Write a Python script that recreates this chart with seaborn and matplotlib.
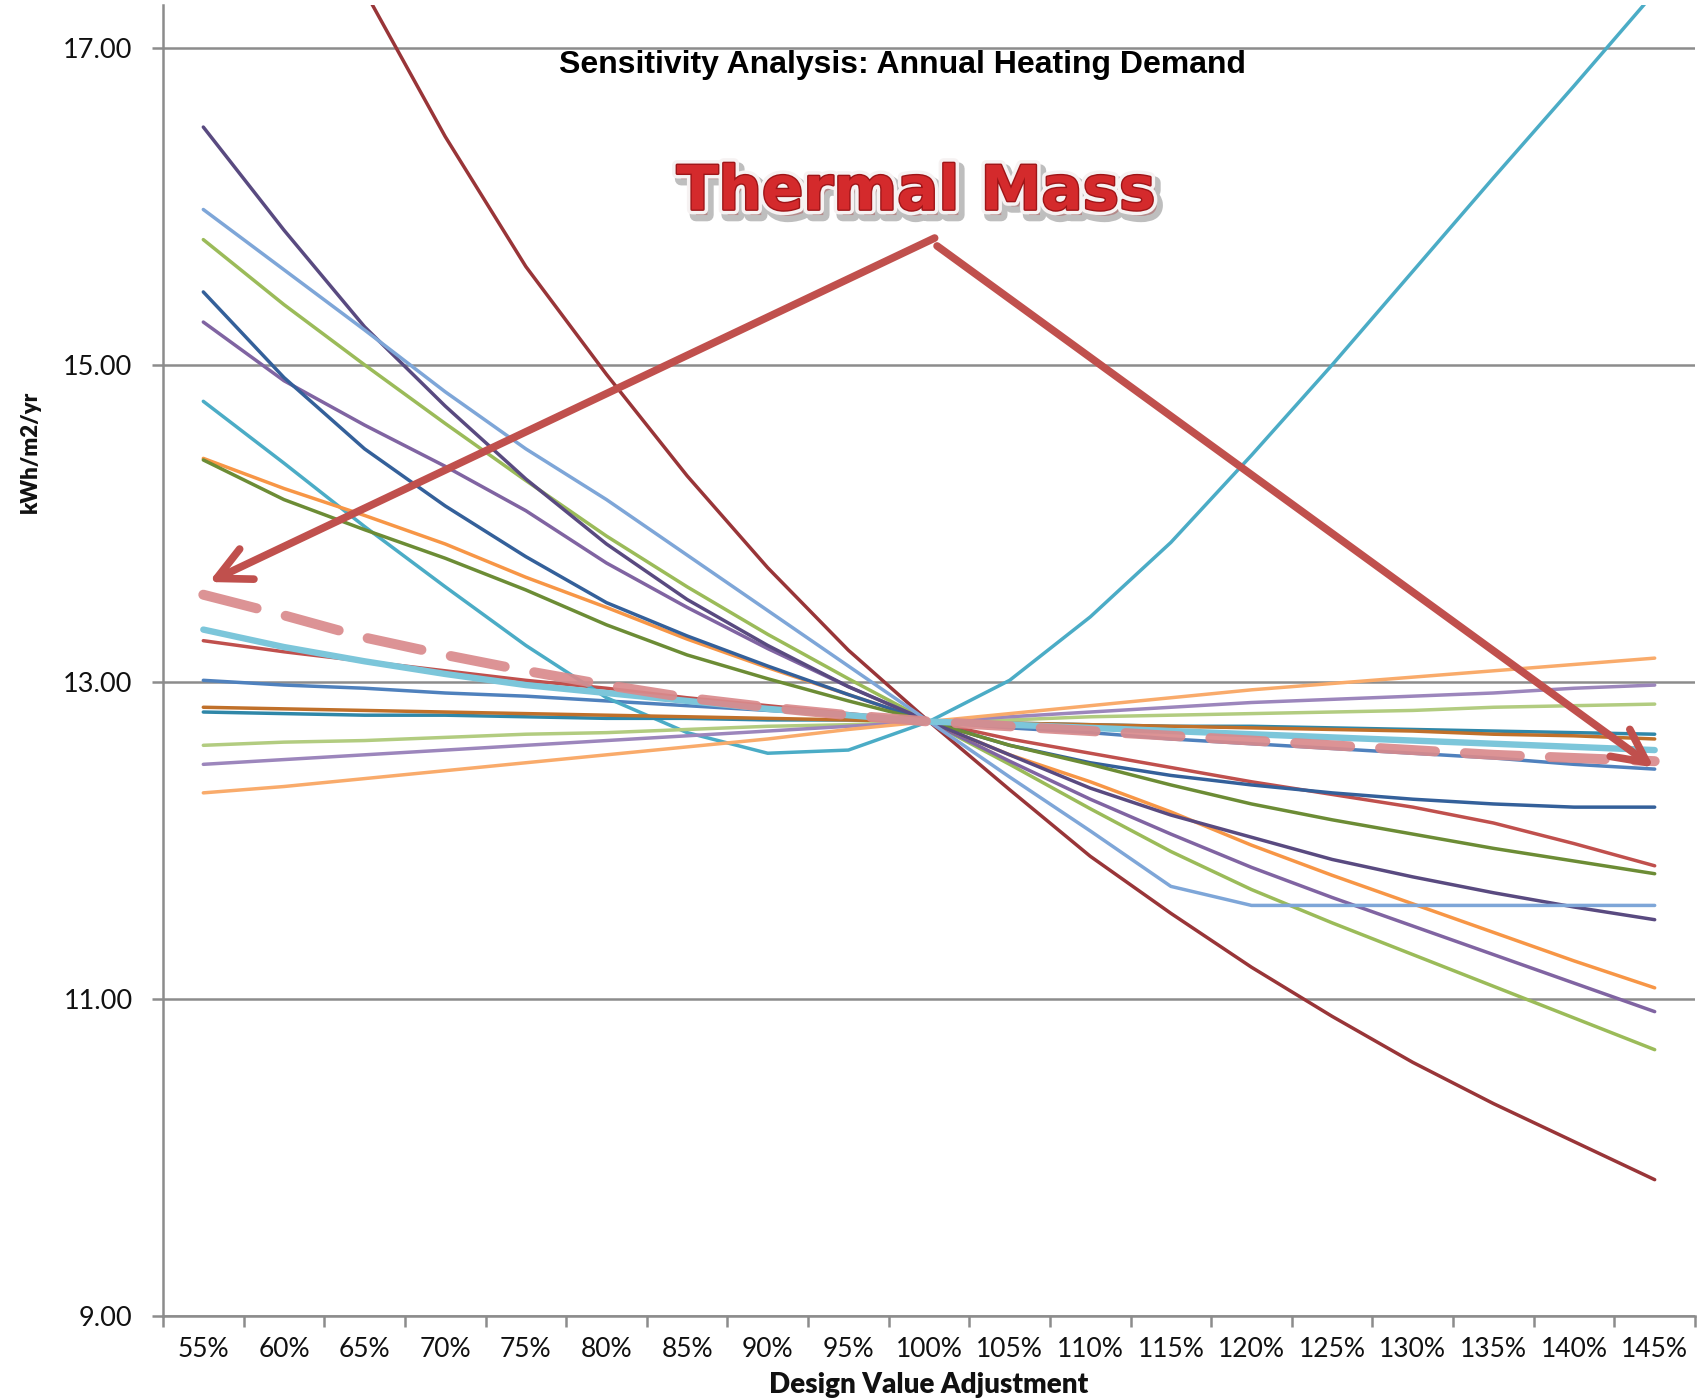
import numpy as np
import pandas as pd
import matplotlib
matplotlib.use("Agg")
import matplotlib.pyplot as plt
import matplotlib.patheffects as pe
import seaborn as sns

# ---- data -------------------------------------------------------------
adjustments = ["55%", "60%", "65%", "70%", "75%", "80%", "85%", "90%", "95%", "100%",
               "105%", "110%", "115%", "120%", "125%", "130%", "135%", "140%", "145%"]

blue = [13.01, 12.98, 12.96, 12.93, 12.91, 12.88, 12.85, 12.82, 12.79, 12.75,
        12.71, 12.68, 12.64, 12.61, 12.58, 12.55, 12.52, 12.48, 12.45]
red = [13.26, 13.19, 13.13, 13.07, 13.01, 12.96, 12.90, 12.85, 12.80, 12.75,
       12.64, 12.55, 12.46, 12.37, 12.29, 12.21, 12.11, 11.98, 11.84]
green = [15.79, 15.38, 15.00, 14.63, 14.27, 13.92, 13.60, 13.30, 13.02, 12.75,
         12.48, 12.20, 11.93, 11.69, 11.48, 11.28, 11.08, 10.88, 10.68]
purple = [15.27, 14.90, 14.62, 14.36, 14.08, 13.75, 13.47, 13.21, 12.97, 12.75,
          12.50, 12.26, 12.04, 11.83, 11.64, 11.46, 11.28, 11.10, 10.92]
aqua = [14.77, 14.38, 13.98, 13.60, 13.23, 12.90, 12.68, 12.55, 12.57, 12.75,
        13.01, 13.41, 13.88, 14.43, 15.00, 15.59, 16.18, 16.76, 17.35]
orange = [14.41, 14.22, 14.05, 13.87, 13.66, 13.47, 13.27, 13.09, 12.92, 12.75,
          12.54, 12.37, 12.18, 11.97, 11.78, 11.60, 11.42, 11.24, 11.07]
dark_blue = [15.46, 14.92, 14.47, 14.11, 13.79, 13.50, 13.29, 13.10, 12.92, 12.75,
             12.60, 12.49, 12.41, 12.35, 12.30, 12.26, 12.23, 12.21, 12.21]
dark_red = [19.60, 18.45, 17.36, 16.44, 15.62, 14.94, 14.30, 13.72, 13.20, 12.75,
            12.32, 11.90, 11.54, 11.20, 10.89, 10.60, 10.34, 10.10, 9.86]
dark_green = [14.40, 14.15, 13.96, 13.78, 13.58, 13.36, 13.17, 13.02, 12.88, 12.75,
              12.60, 12.48, 12.35, 12.23, 12.13, 12.04, 11.95, 11.87, 11.79]
dark_purple = [16.50, 15.85, 15.24, 14.74, 14.28, 13.87, 13.52, 13.23, 12.97, 12.75,
               12.54, 12.33, 12.16, 12.02, 11.88, 11.77, 11.67, 11.58, 11.50]
dark_aqua = [12.81, 12.80, 12.79, 12.79, 12.78, 12.77, 12.77, 12.76, 12.76, 12.75,
             12.74, 12.73, 12.72, 12.72, 12.71, 12.70, 12.69, 12.68, 12.67]
dark_orange = [12.84, 12.83, 12.82, 12.81, 12.80, 12.79, 12.78, 12.77, 12.76, 12.75,
               12.74, 12.73, 12.72, 12.71, 12.70, 12.69, 12.67, 12.66, 12.64]
light_blue = [15.98, 15.60, 15.22, 14.83, 14.47, 14.15, 13.80, 13.45, 13.10, 12.75,
              12.40, 12.06, 11.71, 11.59, 11.59, 11.59, 11.59, 11.59, 11.59]
light_green = [12.60, 12.62, 12.63, 12.65, 12.67, 12.68, 12.70, 12.72, 12.73, 12.75,
               12.76, 12.78, 12.79, 12.80, 12.81, 12.82, 12.84, 12.85, 12.86]
light_purple = [12.48, 12.51, 12.54, 12.57, 12.60, 12.63, 12.66, 12.69, 12.72, 12.75,
                12.78, 12.81, 12.84, 12.87, 12.89, 12.91, 12.93, 12.96, 12.98]
light_aqua = [13.33, 13.22, 13.13, 13.05, 12.98, 12.93, 12.88, 12.83, 12.79, 12.75,
              12.73, 12.71, 12.69, 12.67, 12.65, 12.63, 12.61, 12.59, 12.57]
light_orange = [12.30, 12.34, 12.39, 12.44, 12.49, 12.54, 12.59, 12.64, 12.70, 12.75,
                12.80, 12.85, 12.90, 12.95, 12.99, 13.03, 13.07, 13.11, 13.15]
thermal_mass = [13.55, 13.42, 13.28, 13.17, 13.07, 12.98, 12.90, 12.84, 12.79, 12.75,
                12.72, 12.69, 12.66, 12.63, 12.60, 12.57, 12.54, 12.52, 12.50]

series = {
    "blue": blue, "red": red, "green": green, "purple": purple, "aqua": aqua,
    "orange": orange, "dark_blue": dark_blue, "dark_red": dark_red,
    "dark_green": dark_green, "dark_purple": dark_purple, "dark_aqua": dark_aqua,
    "dark_orange": dark_orange, "light_blue": light_blue, "light_green": light_green,
    "light_purple": light_purple, "light_aqua": light_aqua,
    "light_orange": light_orange, "thermal_mass": thermal_mass,
}

# ---- styling -----------------------------------------------------------
colors = {
    "blue": "#4F81BD", "red": "#C0504D", "green": "#9BBB59", "purple": "#8064A2",
    "aqua": "#4BACC6", "orange": "#F79646", "dark_blue": "#34609A",
    "dark_red": "#993538", "dark_green": "#6C8C35", "dark_purple": "#594A80",
    "dark_aqua": "#2F87A8", "dark_orange": "#C0702A", "light_blue": "#7EA6D8",
    "light_green": "#B2CC80", "light_purple": "#9C86BC", "light_aqua": "#7CC6DA",
    "light_orange": "#F9AB6B", "thermal_mass": "#D98A8C",
}
widths = {name: 2.5 for name in series}
widths["light_aqua"] = 4.6
widths["thermal_mass"] = 7.2

rows = []
for name, vals in series.items():
    for i, v in enumerate(vals):
        rows.append({"series": name, "pos": i, "value": v})
df = pd.DataFrame(rows)

sns.set_theme(style="white")
plt.rcParams["font.family"] = ["Lato", "DejaVu Sans"]

W, H = 1704, 1400
fig = plt.figure(figsize=(W / 100, H / 100), dpi=100)
fig.patch.set_facecolor("white")
ax = fig.add_axes([163 / W, 84 / H, 1532 / W, 1311 / H])
ax.set_facecolor("white")

grid_col = "#8C8C8C"

for name in series:
    sub = df[df["series"] == name]
    kw = dict(color=colors[name], linewidth=widths[name], ax=ax, legend=False,
              sort=False, zorder=3)
    if name == "thermal_mass":
        kw.update(linestyle=(0, (5.5, 3.0)), dash_capstyle="round", alpha=0.92, zorder=5)
    elif name == "light_aqua":
        kw.update(zorder=4)
    sns.lineplot(data=sub, x="pos", y="value", **kw)

# ---- axes --------------------------------------------------------------
ax.set_xlim(-0.5, len(adjustments) - 0.5)
ax.set_ylim(9.0, 17.27)
ax.set_yticks([9, 11, 13, 15, 17])
ax.set_yticklabels([f"{t:.2f}" for t in [9, 11, 13, 15, 17]])
ax.yaxis.grid(True, color=grid_col, linewidth=1.8)
ax.xaxis.grid(False)
ax.set_axisbelow(True)

ax.set_xticks(np.arange(-0.5, len(adjustments), 1.0))
ax.set_xticklabels([])
ax.set_xticks(np.arange(len(adjustments)), minor=True)
ax.set_xticklabels(adjustments, minor=True)
ax.tick_params(axis="x", which="major", direction="out", length=8, width=1.8,
               color=grid_col, bottom=True)
ax.tick_params(axis="x", which="minor", length=0, pad=15, labelsize=19,
               labelcolor="#111111")
ax.tick_params(axis="y", direction="out", length=8, width=1.8, color=grid_col,
               left=True, pad=14, labelsize=19.5, labelcolor="#111111")

for side in ["top", "right"]:
    ax.spines[side].set_visible(False)
for side in ["left", "bottom"]:
    ax.spines[side].set_color(grid_col)
    ax.spines[side].set_linewidth(1.8)

ax.set_xlabel("")
ax.set_ylabel("")
fig.text(929 / W, 1 - 1385 / H, "Design Value Adjustment", ha="center", va="center",
         fontsize=20, fontweight="heavy", color="#111111")
fig.text(30 / W, 1 - 452 / H, "kWh/m2/yr", ha="center", va="center", rotation=90,
         fontsize=16, fontweight="heavy", color="#111111")

# ---- titles and callout -------------------------------------------------
fig.text(902 / W, 1 - 65 / H, "Sensitivity Analysis: Annual Heating Demand",
         ha="center", va="center", fontsize=23, fontweight="bold",
         family=["Liberation Sans", "DejaVu Sans"], color="black")

fig.text(916 / W, 1 - 193 / H, "Thermal Mass", ha="center", va="center",
         fontsize=44, fontweight="bold", family=["DejaVu Sans"], color="#D42A2C",
         zorder=10,
         path_effects=[
             pe.Stroke(linewidth=9, foreground="#8a8a8a", alpha=0.55, offset=(3, -4)),
             pe.Stroke(linewidth=7, foreground="#F6F2F2"),
             pe.Stroke(linewidth=2, foreground="#9E1518"),
             pe.Normal(),
         ])

arrow_col = "#C0504D"
arrowprops = dict(arrowstyle="->,head_length=1.2,head_width=0.6", color=arrow_col,
                  lw=5.5, mutation_scale=20, shrinkA=0, shrinkB=0)
ax.annotate("", xy=(0.07, 13.63), xytext=(9.07, 15.80), arrowprops=arrowprops,
            zorder=8)
ax.annotate("", xy=(17.99, 12.46), xytext=(9.10, 15.75), arrowprops=arrowprops,
            zorder=8)

fig.savefig("out.png", dpi=100, facecolor="white")
